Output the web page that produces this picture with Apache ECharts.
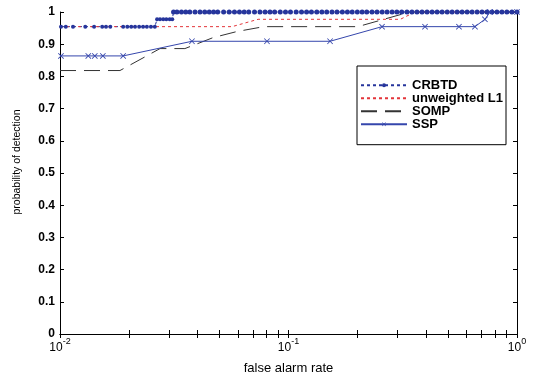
<!DOCTYPE html>
<html>
<head>
<meta charset="utf-8">
<script src="https://cdn.jsdelivr.net/npm/echarts@6/dist/echarts.min.js"></script>
<style>
html,body{margin:0;padding:0;background:#fff;}
#c{width:533px;height:380px;}
</style>
</head>
<body>
<div id="c"></div>
<script>
// ---- data ----
const seriesNames = ['CRBTD', 'unweighted L1', 'SOMP', 'SSP'];

// CRBTD: marker positions at three detection levels
const crbtdLevels = [0.9545, 0.9773, 1.0];
const crbtdLowX = [0.0101, 0.0106, 0.0114, 0.0129, 0.0141, 0.0153, 0.0159, 0.0166, 0.0189, 0.0197,
  0.0205, 0.0213, 0.0222, 0.0231, 0.0240, 0.0250, 0.0260];
const crbtdMidX = [0.0266, 0.0274, 0.0283, 0.0292, 0.0302, 0.0310];
const crbtdTopX = [0.0314, 0.0325, 0.034, 0.0355, 0.037, 0.039, 0.041, 0.043, 0.045, 0.047, 0.049,
  0.052, 0.055, 0.058, 0.061, 0.064, 0.067, 0.071, 0.075, 0.079, 0.083, 0.087, 0.092, 0.097, 0.102,
  0.108, 0.114, 0.12, 0.126, 0.133, 0.14, 0.147, 0.155, 0.163, 0.172, 0.181, 0.19, 0.2, 0.21, 0.22,
  0.232, 0.244, 0.257, 0.27, 0.284, 0.298, 0.313, 0.33, 0.347, 0.365, 0.384, 0.404, 0.425, 0.447,
  0.47, 0.495, 0.52, 0.547, 0.575, 0.605, 0.636, 0.669, 0.703, 0.739, 0.777, 0.817, 0.859, 0.903,
  0.95, 1.0];

const l1X = [0.01, 0.0566, 0.0736, 0.3085, 0.358, 1.0];
const l1Y = [0.9545, 0.9545, 0.9773, 0.9773, 1.0, 1.0];

const sompX = [0.01, 0.0183, 0.0274, 0.0352, 0.0468, 0.0595, 0.078, 0.2011, 0.339, 1.0];
const sompY = [0.8182, 0.8182, 0.8864, 0.8864, 0.9205, 0.9394, 0.9545, 0.9545, 1.0, 1.0];

const sspX = [0.0101, 0.0133, 0.0142, 0.0154, 0.0189, 0.0378, 0.0805, 0.152, 0.2566, 0.3958,
  0.5572, 0.6548, 0.7239, 0.762, 1.0];
const sspY = [0.8636, 0.8636, 0.8636, 0.8636, 0.8636, 0.9091, 0.9091, 0.9091, 0.9545, 0.9545,
  0.9545, 0.9545, 0.9773, 1.0, 1.0];

const xTickValues = [0.01, 0.02, 0.03, 0.04, 0.05, 0.06, 0.07, 0.08, 0.09, 0.1,
  0.2, 0.3, 0.4, 0.5, 0.6, 0.7, 0.8, 0.9, 1];
const xLabelValues = [0.01, 0.1, 1];
const xTitle = 'false alarm rate';
const yTitle = 'probability of detection';

// ---- build ----
function zip(xs, ys) { return xs.map((x, i) => [x, ys[i]]); }
const crbtdData = []
  .concat(crbtdLowX.map(x => [x, crbtdLevels[0]]))
  .concat(crbtdMidX.map(x => [x, crbtdLevels[1]]))
  .concat(crbtdTopX.map(x => [x, crbtdLevels[2]]));

const crossPath = 'path://M0,1L1,0L5,4L9,0L10,1L6,5L10,9L9,10L5,6L1,10L0,9L4,5Z';
const FONT = '"Liberation Sans", Arial, sans-serif';

const xAxisBase = {
  type: 'log', logBase: 10, min: 0.01, max: 1,
  axisLine: { show: true, lineStyle: { color: '#000', width: 1 } },
  axisTick: { show: true, inside: true, length: 4, customValues: xTickValues, lineStyle: { color: '#000' } },
  splitLine: { show: false },
  minorTick: { show: false }
};
const yAxisBase = {
  type: 'value', min: 0, max: 1, interval: 0.1,
  axisLine: { show: true, lineStyle: { color: '#000', width: 1 } },
  axisTick: { show: true, inside: true, length: 4, lineStyle: { color: '#000' } },
  splitLine: { show: false }
};

const chart = echarts.init(document.getElementById('c'), null, { renderer: 'canvas' });
chart.setOption({
  animation: false,
  backgroundColor: '#fff',
  grid: { left: 60, right: 16, top: 12, bottom: 39, containLabel: false },
  xAxis: [
    Object.assign({}, xAxisBase, {
      position: 'bottom',
      axisLabel: {
        customValues: xLabelValues, margin: 3,
        formatter: v => '{b|10}{s|' + Math.round(Math.log10(v)) + '}',
        rich: {
          b: { fontSize: 12, lineHeight: 22, fontFamily: FONT, color: '#000' },
          s: { fontSize: 9, lineHeight: 8, verticalAlign: 'top', fontFamily: FONT, color: '#000' }
        }
      },
      name: xTitle, nameLocation: 'middle', nameGap: 28,
      nameTextStyle: { fontSize: 13, fontFamily: FONT, color: '#000' }
    }),
    Object.assign({}, xAxisBase, { position: 'top', axisLabel: { show: false } })
  ],
  yAxis: [
    Object.assign({}, yAxisBase, {
      position: 'left',
      axisLabel: { margin: 5, fontSize: 12, fontWeight: 'bold', fontFamily: FONT, color: '#000' },
      name: yTitle, nameLocation: 'middle', nameGap: 37,
      nameTextStyle: { fontSize: 10.5, fontFamily: FONT, color: '#000', padding: [0, 0, 0, 22] }
    }),
    Object.assign({}, yAxisBase, { position: 'right', axisLabel: { show: false } })
  ],
  legend: {
    orient: 'vertical', left: 357, top: 66,
    data: [
      { name: seriesNames[0] },
      { name: seriesNames[1], itemStyle: { opacity: 0 } },
      { name: seriesNames[2], itemStyle: { opacity: 0 } },
      { name: seriesNames[3] }
    ],
    itemWidth: 46, itemHeight: 5, itemGap: 0,
    padding: [12.7, 3, 14, 3],
    borderColor: '#000', borderWidth: 1, borderRadius: 0,
    backgroundColor: '#fff',
    textStyle: { fontSize: 13, fontWeight: 'bold', fontFamily: FONT, color: '#000', lineHeight: 12.6 }
  },
  series: [
    {
      name: seriesNames[0], type: 'line', data: crbtdData, clip: false,
      symbol: 'circle', symbolSize: v => (v[1] === 1 ? 5 : 4), showSymbol: true,
      itemStyle: { color: '#26359c' },
      lineStyle: { color: '#26359c', width: 1, type: [3, 3] }
    },
    {
      name: seriesNames[1], type: 'line', data: zip(l1X, l1Y), clip: false,
      symbol: 'none',
      itemStyle: { color: '#e3353a' },
      lineStyle: { color: '#e3353a', width: 1, type: [3, 3] }
    },
    {
      name: seriesNames[2], type: 'line', data: zip(sompX, sompY), clip: false,
      symbol: 'none',
      itemStyle: { color: '#333333' },
      lineStyle: { color: '#333333', width: 1, type: [16, 8] }
    },
    {
      name: seriesNames[3], type: 'line', data: zip(sspX, sspY), clip: false,
      symbol: crossPath, symbolSize: 6, showSymbol: true,
      itemStyle: { color: '#3546ac' },
      lineStyle: { color: '#3546ac', width: 1, type: 'solid' }
    }
  ]
});
</script>
</body>
</html>
